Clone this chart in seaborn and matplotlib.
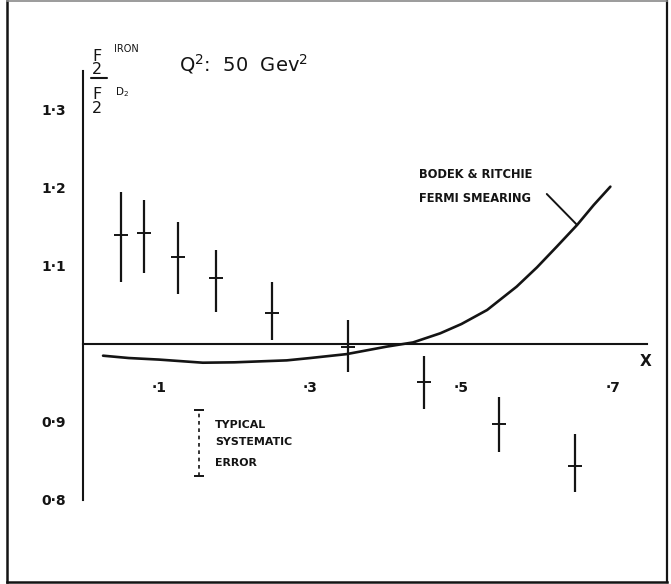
import matplotlib
matplotlib.use("Agg")
import matplotlib.pyplot as plt
import seaborn as sns
import pandas as pd

# Measured structure-function ratio F2(Fe)/F2(D2) at Q^2 = 50 GeV^2
x_bj = [0.05, 0.08, 0.125, 0.175, 0.25, 0.35, 0.45, 0.55, 0.65]
ratio = [1.140, 1.142, 1.111, 1.085, 1.040, 0.996, 0.951, 0.898, 0.844]
err_up = [0.055, 0.043, 0.046, 0.036, 0.039, 0.035, 0.034, 0.034, 0.041]
err_down = [0.061, 0.051, 0.047, 0.044, 0.035, 0.032, 0.034, 0.037, 0.034]

# Bodek & Ritchie Fermi-smearing prediction
curve_x = [0.026, 0.06, 0.10, 0.158, 0.20, 0.269, 0.30, 0.348, 0.401,
           0.436, 0.472, 0.500, 0.534, 0.573, 0.600, 0.626, 0.653, 0.675,
           0.697]
curve_y = [0.985, 0.982, 0.980, 0.976, 0.9765, 0.979, 0.982, 0.987, 0.9966,
           1.002, 1.0137, 1.0256, 1.0436, 1.0735, 1.0983, 1.1247, 1.1526,
           1.1782, 1.2017]
label_at = 16  # curve point where the annotation leader meets the curve

# Typical systematic error bar
sys_x = 0.153
sys_center = 0.873
sys_half = 0.042

x_ticks = [0.1, 0.2, 0.3, 0.4, 0.5, 0.6, 0.7]
x_tick_labels = ["\u00b71", "", "\u00b73", "", "\u00b75", "", "\u00b77"]
y_ticks = [0.8, 0.9, 1.1, 1.2, 1.3]
y_tick_labels = ["0\u00b78", "0\u00b79", "1\u00b71", "1\u00b72", "1\u00b73"]

sns.set_style("white")
plt.rcParams["font.family"] = ["DejaVu Sans"]
plt.rcParams["mathtext.fontset"] = "dejavusans"
INK = "#141414"
W, H = 671, 584

fig = plt.figure(figsize=(W / 100, H / 100), dpi=100)
ax = fig.add_axes([0, 0, 1, 1])
ax.set_facecolor("white")
ax.set_xlim(-0.1103, 0.7772)
ax.set_ylim(0.6923, 1.441)


def at(px, py):
    """Figure-fraction position from a pixel offset measured from the top-left."""
    return px / W, 1 - py / H


# axes crossing at x = 0 and ratio = 1
for side in ("top", "right"):
    ax.spines[side].set_visible(False)
ax.spines["left"].set_position(("data", 0.0))
ax.spines["left"].set_bounds(0.8, 1.35)
ax.spines["bottom"].set_position(("data", 1.0))
ax.spines["bottom"].set_bounds(0.0, 0.745)
for side in ("left", "bottom"):
    ax.spines[side].set_linewidth(1.5)
    ax.spines[side].set_color(INK)

# theory curve
sns.lineplot(x=curve_x, y=curve_y, ax=ax, color=INK, lw=1.9, sort=False,
             estimator=None)

# data points: vertical error bars with a short tick at the central value
df = pd.DataFrame({"x": x_bj, "r": ratio, "up": err_up, "dn": err_down})
ax.vlines(df["x"], df["r"] - df["dn"], df["r"] + df["up"], color=INK, lw=1.6)
sns.scatterplot(data=df, x="x", y="r", ax=ax, marker="_", s=90,
                color=INK, linewidth=1.4)

ax.set_xlabel("")
ax.set_ylabel("")
ax.set_xticks(x_ticks)
ax.set_xticklabels(x_tick_labels, fontsize=10, fontweight="bold", color=INK)
ax.set_yticks(y_ticks)
ax.set_yticklabels(y_tick_labels, fontsize=10, fontweight="bold", color=INK)
ax.tick_params(axis="x", direction="inout", length=13, width=1.3, pad=20, colors=INK)
ax.tick_params(axis="y", direction="inout", length=15, width=1.3, pad=5, colors=INK)

# typical systematic error
ax.plot([sys_x, sys_x], [sys_center - sys_half, sys_center + sys_half],
        color=INK, lw=1.2, ls=(0, (2.2, 2.2)))
ax.plot([sys_x, sys_x], [sys_center - sys_half, sys_center + sys_half],
        ls="none", marker="_", ms=7, mew=1.4, color=INK)
note_kw = dict(fontsize=7.9, fontweight="bold", color=INK, va="center")
fig.text(*at(215, 425), "TYPICAL", **note_kw)
fig.text(*at(215, 442), "SYSTEMATIC", **note_kw)
fig.text(*at(215, 463), "ERROR", **note_kw)

# curve annotation
curve_kw = dict(fontsize=8.3, fontweight="bold", color=INK, va="center")
fig.text(*at(419, 175), "BODEK & RITCHIE", **curve_kw)
fig.text(*at(419, 199), "FERMI SMEARING", **curve_kw)
ax.annotate("", xy=(curve_x[label_at], curve_y[label_at]),
            xytext=(0.6129, 1.1923),
            arrowprops=dict(arrowstyle="-", color=INK, lw=1.4,
                            shrinkA=0, shrinkB=0))

# title and axis labels
fig.text(*at(179, 71.5), r"Q$^{2}$:  50  Gev$^{2}$", fontsize=14,
         color=INK, va="baseline")
fig.text(*at(640, 362), "X", fontsize=11, fontweight="bold", color=INK,
         va="center")

# F2(IRON) / F2(D2) ratio label
frac_kw = dict(fontsize=11.5, color=INK, va="baseline", ha="left",
               multialignment="center", linespacing=0.88)
fig.text(*at(92, 74.5), "F\n2", **frac_kw)
fig.text(*at(114, 52), "IRON", fontsize=7, color=INK, va="baseline")
fig.add_artist(plt.Line2D([91 / W, 107 / W], [1 - 78 / H, 1 - 78 / H],
                          color=INK, lw=1.5))
fig.text(*at(92, 113), "F\n2", **frac_kw)
fig.text(*at(115, 95), r"$\mathrm{D_2}$", fontsize=7.5, color=INK,
         va="baseline")

# outer frame: dark sides and bottom, faint top edge
frame = [((7, 1), (7, 582), INK, 1.8),
         ((7, 582), (667, 582), INK, 1.8),
         ((667, 582), (667, 1), INK, 1.6),
         ((7, 1), (667, 1), "#8a8a8a", 1.2)]
for p0, p1, col, lw in frame:
    fig.add_artist(plt.Line2D([p0[0] / W, p1[0] / W],
                              [1 - p0[1] / H, 1 - p1[1] / H],
                              color=col, lw=lw, solid_capstyle="projecting"))

fig.savefig("out.png", dpi=100, facecolor="white")
